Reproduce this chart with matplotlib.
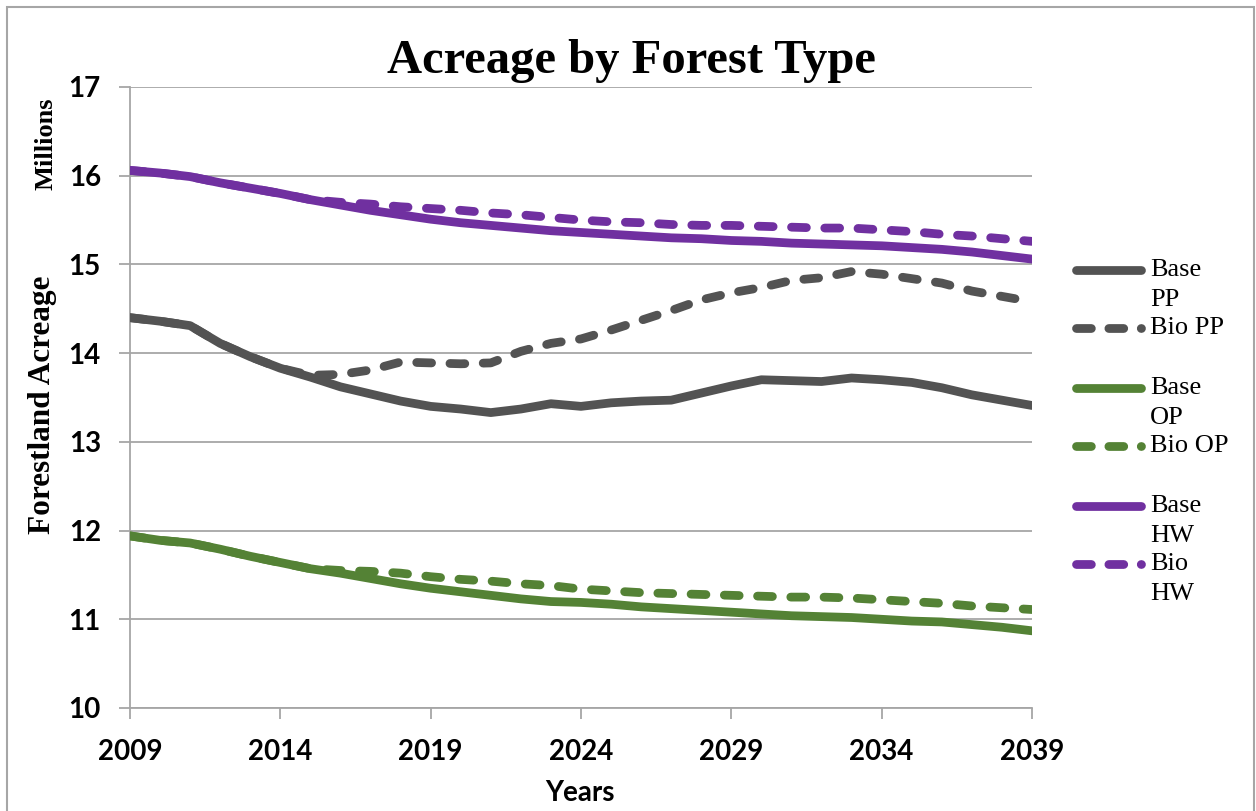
import matplotlib
matplotlib.use("Agg")
import matplotlib.pyplot as plt
from matplotlib.lines import Line2D
from matplotlib.patches import Rectangle

# ---- data (millions of acres) ----
years = list(range(2009, 2040))

base_pp = [14.40, 14.36, 14.31, 14.11, 13.96, 13.83, 13.73, 13.62, 13.54, 13.46,
           13.40, 13.37, 13.33, 13.37, 13.43, 13.40, 13.44, 13.46, 13.47, 13.55,
           13.63, 13.70, 13.69, 13.68, 13.72, 13.70, 13.67, 13.61, 13.53, 13.47, 13.41]
bio_pp = [14.40, 14.36, 14.31, 14.11, 13.96, 13.83, 13.75, 13.76, 13.81, 13.90,
          13.89, 13.88, 13.89, 14.02, 14.11, 14.16, 14.26, 14.37, 14.48, 14.60,
          14.68, 14.74, 14.82, 14.85, 14.92, 14.89, 14.84, 14.79, 14.70, 14.64, 14.58]

base_op = [11.94, 11.89, 11.86, 11.79, 11.71, 11.64, 11.57, 11.52, 11.46, 11.40,
           11.35, 11.31, 11.27, 11.23, 11.20, 11.19, 11.17, 11.14, 11.12, 11.10,
           11.08, 11.06, 11.04, 11.03, 11.02, 11.00, 10.98, 10.97, 10.94, 10.91, 10.87]
bio_op = [11.94, 11.89, 11.86, 11.79, 11.71, 11.64, 11.57, 11.55, 11.54, 11.52,
          11.48, 11.45, 11.43, 11.40, 11.38, 11.34, 11.32, 11.30, 11.29, 11.28,
          11.27, 11.26, 11.25, 11.25, 11.24, 11.22, 11.20, 11.18, 11.15, 11.13, 11.11]

base_hw = [16.06, 16.03, 15.99, 15.92, 15.86, 15.80, 15.73, 15.67, 15.61, 15.56,
           15.51, 15.47, 15.44, 15.41, 15.38, 15.36, 15.34, 15.32, 15.30, 15.29,
           15.27, 15.26, 15.24, 15.23, 15.22, 15.21, 15.19, 15.17, 15.14, 15.10, 15.06]
bio_hw = [16.06, 16.03, 15.99, 15.92, 15.86, 15.80, 15.73, 15.70, 15.68, 15.65,
          15.63, 15.61, 15.58, 15.56, 15.53, 15.50, 15.48, 15.47, 15.45, 15.44,
          15.44, 15.43, 15.42, 15.41, 15.41, 15.39, 15.37, 15.34, 15.32, 15.29, 15.26]

x_ticks = [2009, 2014, 2019, 2024, 2029, 2034, 2039]
y_ticks = [10, 11, 12, 13, 14, 15, 16, 17]

c_pp = '#535353'
c_op = '#548235'
c_hw = '#7030A0'

series = [
    ('Base\nPP', base_pp, c_pp, 'solid'),
    ('Bio PP', bio_pp, c_pp, 'dash'),
    ('Base\nOP', base_op, c_op, 'solid'),
    ('Bio OP', bio_op, c_op, 'dash'),
    ('Base\nHW', base_hw, c_hw, 'solid'),
    ('Bio\nHW', bio_hw, c_hw, 'dash'),
]

W, H = 1256, 811
fig = plt.figure(figsize=(W / 100, H / 100), dpi=100)
ax = fig.add_axes([130 / W, 1 - 708 / H, (1032 - 130) / W, (708 - 87) / H])

LW = 6.3
DASH = (0, (1.7, 2.1))

# draw base lines first, then bio so dashes sit on top
for name, vals, col, style in series:
    if style == 'solid':
        ax.plot(years, vals, color=col, lw=LW, solid_capstyle='round',
                solid_joinstyle='round', zorder=3)
for name, vals, col, style in series:
    if style == 'dash':
        ax.plot(years, vals, color=col, lw=LW, linestyle=DASH,
                dash_capstyle='round', dash_joinstyle='round', zorder=4)

ax.set_xlim(2009, 2039)
ax.set_ylim(10, 17)
ax.set_xticks(x_ticks)
ax.set_yticks(y_ticks)

grid_c = '#A6A6A6'
ax.yaxis.grid(True, color=grid_c, lw=1.3)
ax.set_axisbelow(True)
for s in ['top', 'right']:
    ax.spines[s].set_visible(False)
for s in ['left', 'bottom']:
    ax.spines[s].set_color(grid_c)
    ax.spines[s].set_linewidth(1.3)
ax.tick_params(axis='both', color=grid_c, width=1.3, length=8, direction='out')

tick_font = dict(family='Lato', weight='bold', size=20)
ax.set_xticklabels([str(t) for t in x_ticks], fontdict=tick_font)
ax.set_yticklabels([str(t) for t in y_ticks], fontdict=tick_font)
ax.tick_params(axis='x', pad=14)
ax.tick_params(axis='y', pad=13)

# titles and axis labels
fig.text(631 / W, 1 - 73 / H, 'Acreage by Forest Type', family='Liberation Serif',
         weight='bold', size=35, ha='center', va='baseline')
fig.text(580 / W, 1 - 793 / H, 'Years', family='Lato', weight='bold', size=20,
         ha='center', va='center')
fig.text(43 / W, 1 - 405 / H, 'Forestland Acreage', family='Liberation Serif',
         weight='bold', size=22.5, rotation=90, ha='center', va='center')
fig.text(46 / W, 1 - 144 / H, 'Millions', family='Liberation Serif',
         weight='bold', size=19, rotation=90, ha='center', va='center')

# legend, drawn by hand so the swatch lines up with the first text line
row_y = [270, 328, 388, 446, 506, 564]
for (name, vals, col, style), yy in zip(series, row_y):
    yf = 1 - yy / H
    kw = dict(color=col, lw=LW, transform=fig.transFigure)
    if style == 'solid':
        fig.add_artist(Line2D([1076 / W, 1141 / W], [yf, yf],
                              solid_capstyle='round', **kw))
    else:
        fig.add_artist(Line2D([1076 / W, 1141 / W], [yf, yf], linestyle=(0, (1.7, 2.0)),
                              dash_capstyle='round', **kw))
    fig.text(1150 / W, yf + 11 / H, name, family='Liberation Serif', size=19,
             ha='left', va='top', linespacing=1.5)

# outer chart frame
fig.add_artist(Rectangle((7 / W, -0.05), (1254 - 7) / W, 1.05 - 7 / H,
                         transform=fig.transFigure, fill=False,
                         edgecolor='#A6A6A6', lw=1.5))

fig.savefig('out.png', dpi=100)
